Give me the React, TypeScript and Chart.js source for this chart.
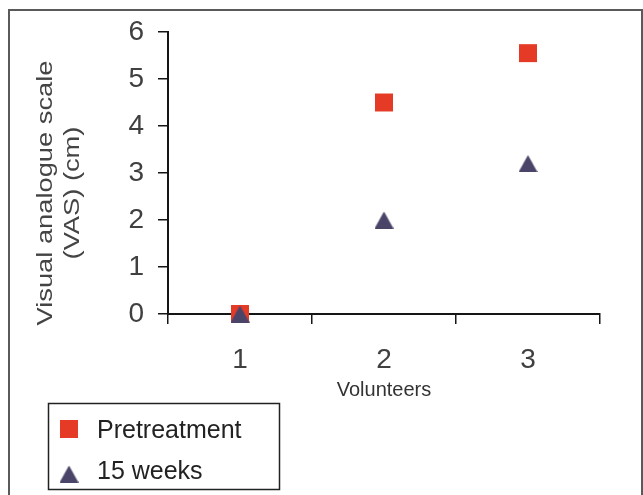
import React, { useEffect, useRef } from 'react';
import { Chart, registerables } from 'chart.js';

Chart.register(...registerables);

// ---- data ----
const categories = ['1', '2', '3'];
const pretreatment = [0, 4.5, 5.55];
const weeks15 = [0, 2.0, 3.2];
const yTickValues = [0, 1, 2, 3, 4, 5, 6];
const seriesLabels = ['Pretreatment', '15 weeks'];
const xTitle = 'Volunteers';
const yTitleLines = ['Visual analogue scale', '(VAS) (cm)'];

// ---- styles ----
const W = 643;
const H = 495;
const FONT = '"Liberation Sans", Arial, sans-serif';
const RED = '#e53b26';
const SLATE = '#4a4568';
const AXIS = '#151515';
const TEXT = '#404040';

// triangle marker centred on its bounding box (like the original spreadsheet marker)
function makeTriangle(color: string, w: number, h: number) {
  const c = document.createElement('canvas');
  c.width = w;
  c.height = h;
  const g = c.getContext('2d');
  if (g) {
    g.fillStyle = color;
    g.beginPath();
    g.moveTo(w / 2, 0);
    g.lineTo(w, h);
    g.lineTo(0, h);
    g.closePath();
    g.fill();
  }
  return c;
}

const framePlugin = {
  id: 'pageFrame',
  beforeDraw(chart: any) {
    const { ctx, width, height } = chart;
    ctx.save();
    ctx.fillStyle = '#ffffff';
    ctx.fillRect(0, 0, width, height);
    ctx.strokeStyle = '#5a5a5a';
    ctx.lineWidth = 2;
    ctx.beginPath();
    ctx.moveTo(9, height + 2);
    ctx.lineTo(9, 10);
    ctx.lineTo(642, 10);
    ctx.lineTo(642, height + 2);
    ctx.stroke();
    ctx.restore();
  },
};

const yTitlePlugin = {
  id: 'yTitleShifted',
  afterDraw(chart: any) {
    const { ctx, chartArea } = chart;
    const cy = (chartArea.top + chartArea.bottom) / 2 + 20;
    ctx.save();
    ctx.font = `22px ${FONT}`;
    ctx.fillStyle = '#444444';
    ctx.textAlign = 'center';
    ctx.textBaseline = 'middle';
    yTitleLines.forEach((line, i) => {
      const x = chartArea.left - 122 + i * 27;
      ctx.save();
      ctx.translate(x, cy);
      ctx.rotate(-Math.PI / 2);
      ctx.scale(1.24, 1);
      ctx.fillText(line, 0, 0);
      ctx.restore();
    });
    ctx.restore();
  },
};

const legendPlugin = {
  id: 'boxedLegend',
  afterDraw(chart: any) {
    const { ctx } = chart;
    ctx.save();
    ctx.strokeStyle = '#222222';
    ctx.lineWidth = 1.5;
    ctx.strokeRect(48.5, 403.5, 231, 86);
    chart.data.datasets.forEach((ds: any, i: number) => {
      const cy = i === 0 ? 429 : 474;
      ctx.fillStyle = ds.pointBackgroundColor;
      if (ds.pointStyle === 'rect') {
        ctx.fillRect(60, cy - 9, 18, 18);
      } else if (ds.pointStyle instanceof HTMLCanvasElement) {
        const img = ds.pointStyle as HTMLCanvasElement;
        ctx.drawImage(img, 69 - img.width / 2, cy - img.height / 2);
      }
      ctx.fillStyle = '#222222';
      ctx.font = `25px ${FONT}`;
      ctx.textBaseline = 'middle';
      ctx.textAlign = 'left';
      ctx.fillText(ds.label, 97, i === 0 ? 431 : 472);
    });
    ctx.restore();
  },
};

export default function App() {
  const ref = useRef<HTMLCanvasElement | null>(null);

  useEffect(() => {
    document.body.style.margin = '0';
    const canvas = ref.current;
    if (!canvas) return;
    const tri = makeTriangle(SLATE, 19, 17);
    const chart = new Chart(canvas, {
      type: 'line',
      data: {
        labels: categories,
        datasets: [
          {
            label: seriesLabels[0],
            data: pretreatment,
            showLine: false,
            pointStyle: 'rect',
            pointRadius: 12.7,
            pointHoverRadius: 12.7,
            pointBackgroundColor: RED,
            pointBorderColor: RED,
            pointBorderWidth: 0,
            borderColor: RED,
            backgroundColor: RED,
            clip: false,
            order: 2,
          },
          {
            label: seriesLabels[1],
            data: weeks15,
            showLine: false,
            pointStyle: tri,
            pointRadius: 10,
            pointHoverRadius: 10,
            pointBackgroundColor: SLATE,
            pointBorderColor: SLATE,
            pointBorderWidth: 0,
            borderColor: SLATE,
            backgroundColor: SLATE,
            clip: false,
            order: 1,
          },
        ],
      },
      options: {
        responsive: false,
        animation: false,
        devicePixelRatio: 1,
        layout: { padding: { left: 0, top: 32, right: 43, bottom: 81 } },
        plugins: {
          legend: { display: false },
          tooltip: { enabled: false },
        },
        scales: {
          x: {
            type: 'category',
            offset: true,
            grid: {
              offset: true,
              drawOnChartArea: false,
              drawTicks: true,
              tickLength: 10,
              color: AXIS,
              lineWidth: 1.5,
            },
            border: { display: true, color: AXIS, width: 2 },
            ticks: { font: { family: FONT, size: 28 }, color: TEXT, padding: 19 },
            title: {
              display: true,
              text: xTitle,
              font: { family: FONT, size: 20 },
              color: '#333333',
              padding: { top: 0, bottom: 12 },
            },
            afterFit: (s: any) => {
              s.height = 100;
            },
          },
          y: {
            type: 'linear',
            min: 0,
            max: 6,
            grid: {
              drawOnChartArea: false,
              drawTicks: true,
              tickLength: 10,
              color: AXIS,
              lineWidth: 1.5,
            },
            border: { display: true, color: AXIS, width: 2 },
            ticks: { stepSize: 1, font: { family: FONT, size: 28 }, color: TEXT, padding: 14 },
            afterBuildTicks: (s: any) => {
              s.ticks = yTickValues.map((v) => ({ value: v }));
            },
            afterFit: (s: any) => {
              s.width = 168;
            },
          },
        },
      },
      plugins: [framePlugin, yTitlePlugin, legendPlugin],
    });
    return () => chart.destroy();
  }, []);

  return (
    <div style={{ width: W, height: H, position: 'relative' }}>
      <canvas ref={ref} width={W} height={H} style={{ display: 'block', width: W, height: H }} />
    </div>
  );
}
